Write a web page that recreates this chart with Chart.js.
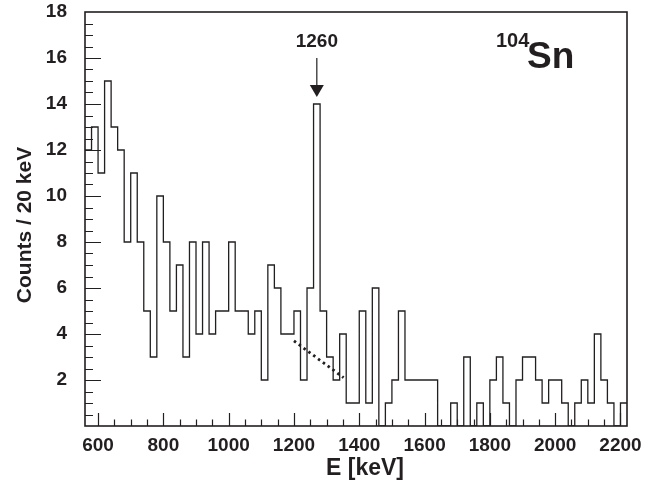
<!DOCTYPE html>
<html>
<head>
<meta charset="utf-8">
<script src="https://cdn.jsdelivr.net/npm/chart.js@4.4.0/dist/chart.umd.min.js"></script>
<style>
  html, body { margin: 0; padding: 0; background: #fff; }
</style>
</head>
<body>
<canvas id="spectrum" width="667" height="491"></canvas>
<script>
// histogram: 20 keV bins starting at 560 keV
const binStart = 560;
const binWidth = 20;
const counts = [
  12, 13, 11, 15, 13, 12, 8, 11, 8, 5,      // 560 - 740
  3, 10, 8, 5, 7, 3, 8, 4, 8, 4,            // 760 - 940
  5, 5, 8, 5, 5, 4, 5, 2, 7, 6,             // 960 - 1140
  4, 4, 5, 2, 6, 14, 5, 3, 2, 4,            // 1160 - 1340
  1, 1, 5, 1, 6, 0, 1, 2, 5, 2,             // 1360 - 1540
  2, 2, 2, 2, 0, 0, 1, 0, 3, 0,             // 1560 - 1740
  1, 0, 2, 3, 1, 0, 2, 3, 3, 2,             // 1760 - 1940
  1, 2, 2, 1, 0, 1, 2, 1, 4, 2,             // 1960 - 2140
  1, 0, 1                                   // 2160 - 2200
];
const xTicks = [600, 800, 1000, 1200, 1400, 1600, 1800, 2000, 2200];
const yTicks = [2, 4, 6, 8, 10, 12, 14, 16, 18];

// dotted background line under the peak
const fitE = [1200, 1352];
const fitCounts = [3.7, 2.1];

// peak marker
const peakLabel = '1260';
const peakE = 1270;
const arrowFrom = 16.0;
const arrowTo = 14.3;
const labelAt = 16.7;

const ink = '#231f20';
const font = '"Liberation Sans", Arial, Helvetica, sans-serif';

const histPoints = counts.map((c, i) => ({ x: binStart + i * binWidth, y: c }));
histPoints.push({ x: binStart + counts.length * binWidth, y: counts[counts.length - 1] });
const fitPoints = fitE.map((e, i) => ({ x: e, y: fitCounts[i] }));

// ROOT style frame, inner ticks, titles and labels
const rootDecor = {
    id: 'rootDecor',
    afterDatasetsDraw(chart) {
        const ctx = chart.ctx;
        const a = chart.chartArea;
        const xs = chart.scales.x;
        const ys = chart.scales.y;
        ctx.save();
        ctx.strokeStyle = ink;
        ctx.lineWidth = 1.2;
        ctx.beginPath();
        for (let e = 600; e <= 2200; e += 50) {
            const px = Math.round(xs.getPixelForValue(e)) + 0.5;
            const len = e % 200 === 0 ? 13 : 6.5;
            ctx.moveTo(px, a.bottom);
            ctx.lineTo(px, a.bottom - len);
        }
        for (let v = 0.5; v < 18; v += 0.5) {
            const py = Math.round(ys.getPixelForValue(v)) + 0.5;
            const len = v % 2 === 0 ? 16 : 8;
            ctx.moveTo(a.left, py);
            ctx.lineTo(a.left + len, py);
        }
        ctx.stroke();

        ctx.lineWidth = 1.6;
        ctx.strokeRect(a.left, a.top, a.right - a.left, a.bottom - a.top);

        // arrow
        const ax = xs.getPixelForValue(peakE);
        const y0 = ys.getPixelForValue(arrowFrom);
        const y1 = ys.getPixelForValue(arrowTo);
        ctx.lineWidth = 1.2;
        ctx.beginPath();
        ctx.moveTo(ax, y0);
        ctx.lineTo(ax, y1 - 10);
        ctx.stroke();
        ctx.fillStyle = ink;
        ctx.beginPath();
        ctx.moveTo(ax - 7, y1 - 12);
        ctx.lineTo(ax + 7, y1 - 12);
        ctx.lineTo(ax, y1);
        ctx.closePath();
        ctx.fill();

        ctx.textAlign = 'center';
        ctx.textBaseline = 'middle';
        ctx.font = 'bold 19px ' + font;
        ctx.fillText(peakLabel, ax, ys.getPixelForValue(labelAt));

        // nucleus label
        ctx.textAlign = 'left';
        ctx.textBaseline = 'alphabetic';
        ctx.font = 'bold 20px ' + font;
        ctx.fillText('104', a.right - 131, a.top + 35);
        ctx.font = 'bold 37px ' + font;
        ctx.fillText('Sn', a.right - 100, a.top + 56);

        // axis titles
        ctx.textAlign = 'center';
        ctx.textBaseline = 'middle';
        ctx.font = 'bold 23px ' + font;
        ctx.fillText('E [keV]', 365, 469);
        ctx.translate(25, 225);
        ctx.rotate(-Math.PI / 2);
        ctx.font = 'bold 21px ' + font;
        ctx.fillText('Counts / 20 keV', 0, 0);
        ctx.restore();
    }
};

new Chart(document.getElementById('spectrum'), {
    type: 'line',
    data: {
        datasets: [
            {
                data: histPoints,
                stepped: true,
                borderColor: ink,
                borderWidth: 1.3,
                pointRadius: 0,
                fill: false
            },
            {
                data: fitPoints,
                borderColor: ink,
                borderWidth: 2.8,
                borderDash: [2.5, 3.5],
                pointRadius: 0,
                fill: false
            }
        ]
    },
    options: {
        responsive: false,
        animation: false,
        layout: { padding: { left: 0, right: 40, top: 12, bottom: 0 } },
        plugins: {
            legend: { display: false },
            tooltip: { enabled: false }
        },
        scales: {
            x: {
                type: 'linear',
                min: binStart,
                max: binStart + counts.length * binWidth,
                grid: { display: false, drawTicks: false },
                border: { display: false },
                afterBuildTicks: s => { s.ticks = xTicks.map(v => ({ value: v })); },
                afterFit: s => { s.height = 65; s.paddingLeft = 0; s.paddingRight = 0; },
                ticks: {
                    padding: 8,
                    color: ink,
                    maxRotation: 0,
                    autoSkip: false,
                    callback: v => String(v),
                    font: { family: font, size: 19, weight: 'bold' }
                }
            },
            y: {
                min: 0,
                max: 18,
                grid: { display: false, drawTicks: false },
                border: { display: false },
                afterBuildTicks: s => { s.ticks = yTicks.map(v => ({ value: v })); },
                afterFit: s => { s.width = 85; s.paddingTop = 0; s.paddingBottom = 0; },
                ticks: {
                    padding: 18,
                    color: ink,
                    autoSkip: false,
                    font: { family: font, size: 19, weight: 'bold' }
                }
            }
        }
    },
    plugins: [rootDecor]
});
</script>
</body>
</html>
